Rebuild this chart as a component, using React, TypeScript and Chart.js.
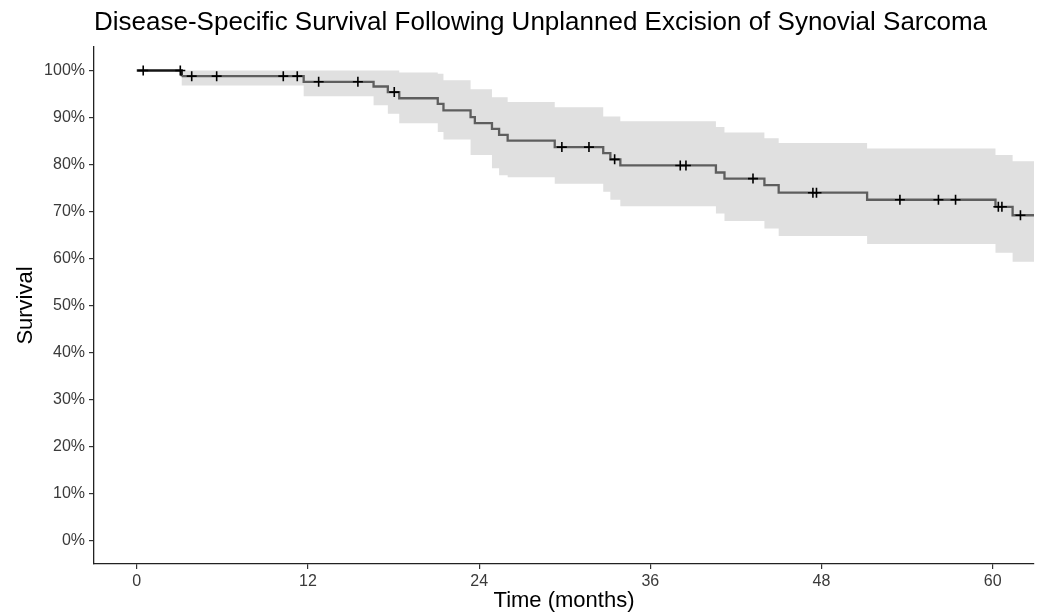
import React, { useEffect, useRef } from 'react';
import { Chart, registerables } from 'chart.js';

Chart.register(...registerables);

const TITLE = 'Disease-Specific Survival Following Unplanned Excision of Synovial Sarcoma';
const X_TITLE = 'Time (months)';
const Y_TITLE = 'Survival';

const X_TICKS = [0, 12, 24, 36, 48, 60];
const Y_TICKS = [0, 10, 20, 30, 40, 50, 60, 70, 80, 90, 100];

// Kaplan-Meier step curve (months, % survival)
const eventTimes = [0, 3.15, 11.7, 16.6, 17.6, 18.4, 21.1, 21.5, 23.4, 23.7, 24.9, 25.4, 26.0, 29.3, 32.7, 33.2, 33.9, 40.6, 41.2, 44.0, 45.0, 51.2, 60.2, 61.4, 63.0];
const survival = [100, 98.8, 97.6, 96.6, 95.4, 94.1, 92.9, 91.5, 90.1, 88.8, 87.6, 86.3, 85.1, 83.7, 82.4, 81.1, 79.8, 78.3, 77.0, 75.6, 74.0, 72.5, 71.0, 69.2, 69.2];
const upperCI = [100, 100, 100, 100, 100, 99.6, 99.3, 97.9, 96.0, 96.0, 94.3, 94.3, 93.3, 92.2, 90.2, 90.2, 89.2, 88.0, 86.8, 85.6, 84.6, 83.4, 82.0, 80.7, 80.7];
const lowerCI = [100, 96.8, 94.5, 92.6, 90.8, 88.8, 86.9, 85.3, 82.0, 82.0, 79.2, 77.7, 77.3, 75.9, 74.2, 72.5, 71.1, 69.6, 68.0, 66.4, 64.8, 63.1, 61.2, 59.3, 59.3];

// censored observations (months)
const censorTimes = [0.45, 3.05, 3.85, 5.6, 10.27, 11.25, 12.75, 15.5, 18.05, 29.8, 31.7, 33.5, 38.1, 38.5, 43.2, 47.4, 47.65, 53.5, 56.2, 57.4, 60.4, 60.65, 61.95];

const survAt = (t: number) => {
  let v = survival[0];
  for (let i = 0; i < eventTimes.length; i++) {
    if (eventTimes[i] <= t) v = survival[i];
  }
  return v;
};

export default function App() {
  const ref = useRef<HTMLCanvasElement | null>(null);

  useEffect(() => {
    document.body.style.margin = '0';
    const canvas = ref.current;
    if (!canvas) return;

    const curve = eventTimes.map((t, i) => ({ x: t, y: survival[i] }));
    const upper = eventTimes.map((t, i) => ({ x: t, y: upperCI[i] }));
    const lower = eventTimes.map((t, i) => ({ x: t, y: lowerCI[i] }));
    const censors = censorTimes.map((t) => ({ x: t, y: survAt(t) }));

    const chart = new Chart(canvas, {
      type: 'line',
      data: {
        datasets: [
          {
            label: 'upper',
            data: upper,
            stepped: true,
            borderWidth: 0,
            borderColor: 'rgba(0,0,0,0)',
            backgroundColor: '#e0e0e0',
            pointRadius: 0,
            fill: '+1',
            order: 5,
          },
          {
            label: 'lower',
            data: lower,
            stepped: true,
            borderWidth: 0,
            borderColor: 'rgba(0,0,0,0)',
            pointRadius: 0,
            fill: false,
            order: 4,
          },
          {
            label: 'survival',
            data: curve,
            stepped: true,
            borderWidth: 2.3,
            borderColor: '#5e5e5e',
            pointRadius: 0,
            fill: false,
            order: 2,
            segment: {
              borderColor: (ctx: any) => (ctx.p0.parsed.x < 3 ? '#151515' : '#5e5e5e'),
            },
          },
          {
            type: 'scatter',
            label: 'censored',
            data: censors,
            pointStyle: 'cross',
            pointRadius: 5,
            pointBorderWidth: 1.6,
            pointBorderColor: '#000',
            borderColor: '#000',
            showLine: false,
            order: 1,
          } as any,
        ],
      },
      options: {
        responsive: false,
        animation: false,
        events: [],
        layout: { padding: { top: 0, left: 0, right: 7, bottom: 0 } },
        plugins: {
          legend: { display: false },
          tooltip: { enabled: false },
          title: {
            display: true,
            text: TITLE,
            align: 'start',
            fullSize: false,
            color: '#000',
            font: { family: 'Liberation Sans, Arial, sans-serif', size: 26, weight: 'normal' },
            padding: { top: 7, bottom: 8.8 },
          },
        },
        scales: {
          x: {
            type: 'linear',
            min: -3.0,
            max: 62.9,
            afterBuildTicks: (scale: any) => {
              scale.ticks = X_TICKS.map((v) => ({ value: v }));
            },
            afterFit: (scale: any) => {
              scale.height = 51;
            },
            ticks: {
              color: '#3a3a3a',
              font: { family: 'Liberation Sans, Arial, sans-serif', size: 16 },
              padding: 3,
              maxRotation: 0,
              callback: (v: any) => String(v),
            },
            grid: {
              display: true,
              drawOnChartArea: false,
              drawTicks: true,
              tickLength: 5,
              color: '#333',
              lineWidth: 1.2,
            },
            border: { display: true, color: '#222', width: 1.3 },
            title: {
              display: true,
              text: X_TITLE,
              color: '#000',
              font: { family: 'Liberation Sans, Arial, sans-serif', size: 22 },
              padding: { top: 0, bottom: 1 },
            },
          },
          y: {
            type: 'linear',
            min: -5,
            max: 105,
            afterBuildTicks: (scale: any) => {
              scale.ticks = Y_TICKS.map((v) => ({ value: v }));
            },
            afterFit: (scale: any) => {
              scale.width = 94;
            },
            ticks: {
              color: '#3a3a3a',
              font: { family: 'Liberation Sans, Arial, sans-serif', size: 16 },
              padding: 4,
              callback: (v: any) => v + '%',
            },
            grid: {
              display: true,
              drawOnChartArea: false,
              drawTicks: true,
              tickLength: 5,
              color: '#333',
              lineWidth: 1.2,
            },
            border: { display: true, color: '#222', width: 1.3 },
            title: {
              display: true,
              text: Y_TITLE,
              color: '#000',
              font: { family: 'Liberation Sans, Arial, sans-serif', size: 22 },
              padding: { top: 13, bottom: 0 },
            },
          },
        },
      },
    } as any);

    return () => chart.destroy();
  }, []);

  return (
    <div style={{ width: 1041, height: 615 }}>
      <canvas ref={ref} width={1041} height={615} style={{ display: 'block' }} />
    </div>
  );
}
